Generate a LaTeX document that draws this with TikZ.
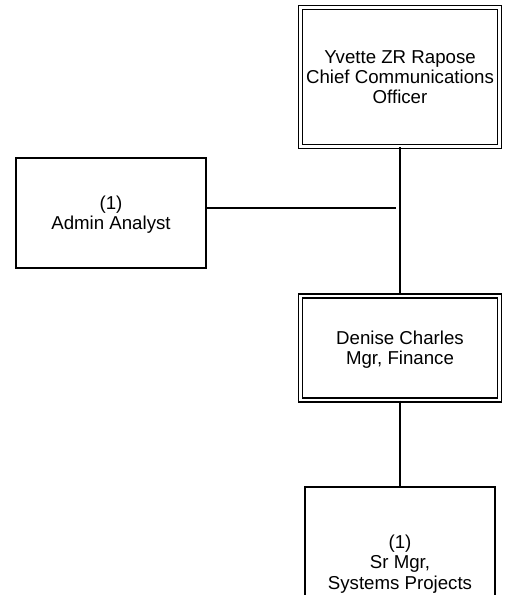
\documentclass[tikz,border=0pt]{standalone}
\usepackage{fontspec}
\setmainfont{Liberation Sans}
\begin{document}
\begin{tikzpicture}[x=0.75pt,y=0.75pt,yscale=-1,xscale=1,
  chart/.style={font=\fontsize{14pt}{15.3pt}\selectfont, align=center, inner sep=0pt, text depth=0pt},
  headbox/.style={chart, draw, double, line width=1.1pt, double distance=1.9pt, minimum width=149pt},
  postbox/.style={chart, draw, line width=1.5pt, minimum width=143pt},
  link/.style={line width=1.5pt}]
\useasboundingbox (0,0) rectangle (527,595);

%Shape: Double Rectangle
\node [headbox, minimum height=104pt] (ceo) at (400,77) {Yvette ZR Rapose\\Chief Communications\\Officer};
%Shape: Rectangle
\node [postbox, minimum height=83pt] (admin) at (111,213) {(1)\\Admin Analyst};
%Shape: Double Rectangle
\node [headbox, minimum height=78pt] (finance) at (400,348) {Denise Charles\\ Mgr, Finance};
%Shape: Rectangle
\node [postbox, minimum height=113pt] (sysproj) at (400,562) {(1)\\Sr Mgr,\\Systems Projects};

%Straight Lines
\coordinate (adminend) at (396,208);
\draw [link] (ceo.south) -- (finance.north);
\draw [link] (admin.east |- adminend) -- (adminend);
\draw [link] (finance.south) -- (sysproj.north);

\end{tikzpicture}
\end{document}
